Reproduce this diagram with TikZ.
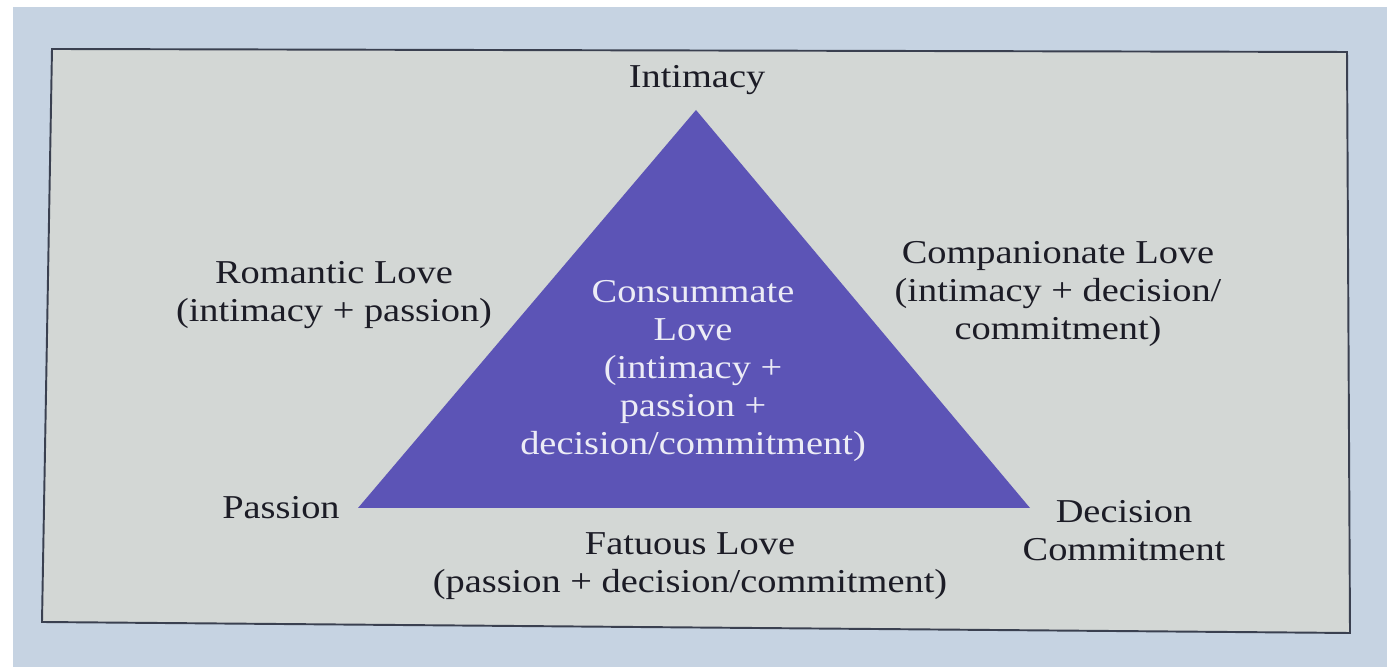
\documentclass[tikz,border=0pt]{standalone}
\usepackage{fontspec}
\setmainfont{Liberation Serif}[FakeStretch=1.15]
\usepackage{tikz}

\definecolor{pagebg}{RGB}{198,211,226}
\definecolor{boxbg}{RGB}{211,215,213}
\definecolor{boxline}{RGB}{58,64,80}
\definecolor{tribg}{RGB}{92,84,182}
\definecolor{inkdark}{RGB}{28,28,38}
\definecolor{inklight}{RGB}{236,236,246}

\tikzset{
	lbl/.style={font=\fontsize{19}{21.5}\selectfont, text=inkdark, align=center, inner sep=0pt},
	lblin/.style={lbl, text=inklight}
}

\begin{document}
\begin{tikzpicture}
		\useasboundingbox (0, 0) rectangle (27.74, 13.34);
\fill[pagebg] (0, 0) rectangle (27.74, 13.34) ; % page
\fill[white] (0, 13.2) rectangle (27.74, 13.34) ; % top strip
\fill[white] (0, 0) rectangle (0.26, 13.34) ; % left strip
\filldraw[fill=boxbg, draw=boxline, line width=1.1pt] (1.04, 12.36) -- (26.94, 12.30) -- (27.00, 0.68) -- (0.84, 0.90) -- cycle ; % frame

\coordinate (TopI) at (13.92, 11.14) ; % apex
\coordinate (LeftP) at (7.16, 3.18) ; % base left
\coordinate (RightD) at (20.60, 3.18) ; % base right
\fill[tribg] (TopI) -- (LeftP) -- (RightD) -- cycle ; % triangle

\draw (13.94, 11.58) node[lbl, anchor=base] (Intimacy) {Intimacy}; % apex label
\draw (5.62, 2.96) node[lbl, anchor=base] (Passion) {Passion}; % left corner
\draw (22.48, 2.72) node[lbl] (Decision) {Decision\\Commitment}; % right corner

\draw (6.68, 7.44) node[lbl] (Romantic) {Romantic Love\\(intimacy + passion)}; % left side
\draw (21.16, 7.46) node[lbl] (Companionate) {Companionate Love\\(intimacy + decision/\\commitment)}; % right side
\draw (13.80, 2.02) node[lbl] (Fatuous) {Fatuous Love\\(passion + decision/commitment)}; % base

\draw (13.86, 5.92) node[lblin] (Consummate) {Consummate\\Love\\(intimacy +\\passion +\\decision/commitment)}; % inside
		\end{tikzpicture}
\end{document}
